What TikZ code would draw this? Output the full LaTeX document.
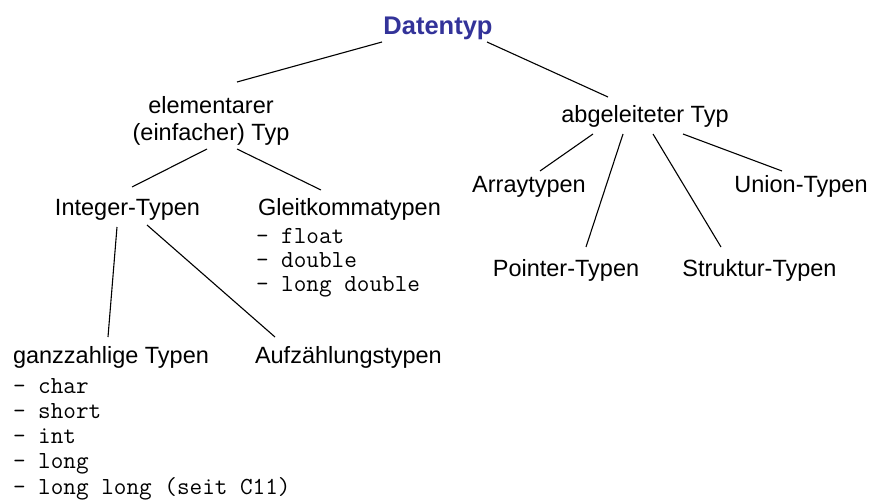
\documentclass[tikz,border=0pt]{standalone}
\usepackage{fontspec}
\setmainfont{Liberation Sans}
\setmonofont{Latin Modern Mono}
\usetikzlibrary{calc}
\definecolor{titleblue}{RGB}{51,51,153}
\tikzset{
  lbl/.style={inner sep=0pt, outer sep=0pt, font=\fontsize{23.5}{27}\selectfont},
  ttl/.style={inner sep=0pt, outer sep=0pt, text=titleblue, font=\bfseries\fontsize{25.5}{30}\selectfont},
  lst/.style={inner sep=0pt, outer sep=0pt, align=left, font=\ttfamily\fontsize{24.5}{24}\selectfont},
  lstb/.style={lst, font=\ttfamily\fontsize{24.5}{25.25}\selectfont},
  con/.style={line width=1.1pt, black}
}
\begin{document}
\begin{tikzpicture}[x=1pt, y=-1pt]
\useasboundingbox (0,0) rectangle (871,503);
% nodes (multi-line nodes: base = baseline of last line)
\node[ttl, anchor=base] (dt) at (438,35) {Datentyp};
\node[lbl, anchor=base, align=center] (el) at (211,140) {elementarer\\(einfacher) Typ};
\node[lbl, anchor=base] (ab) at (645,123) {abgeleiteter Typ};
\node[lbl, anchor=base] (it) at (127.5,215) {Integer-Typen};
\node[lbl, anchor=base west] (gk) at (258,215) {Gleitkommatypen};
\node[lst, anchor=base west] (gkl) at (256,291) {- float\\- double\\- long double};
\node[lbl, anchor=base] (ar) at (529,192) {Arraytypen};
\node[lbl, anchor=base] (un) at (801,192) {Union-Typen};
\node[lbl, anchor=base] (pt) at (566,276) {Pointer-Typen};
\node[lbl, anchor=base] (st) at (759.5,276) {Struktur-Typen};
\node[lbl, anchor=base west] (gz) at (13,363) {ganzzahlige Typen};
\node[lstb, anchor=base west] (gzl) at (13,494) {- char\\- short\\- int\\- long\\- long long (seit C11)};
\node[lbl, anchor=base west] (au) at (255,363) {Aufzählungstypen};
% connectors
\draw[con] ($(dt.base)+(-56,7)$) -- ($(el.base)+(26,-58)$);
\draw[con] ($(dt.base)+(49,7)$) -- ($(ab.base)+(-37,-26)$);
\draw[con] ($(el.base)+(-4,9)$) -- ($(it.base)+(4.5,-28)$);
\draw[con] ($(el.base)+(26,9)$) -- ($(gk.base west)+(63,-25)$);
\draw[con] ($(ab.base)+(-52,11)$) -- ($(ar.base)+(11,-21)$);
\draw[con] ($(ab.base)+(-22,11)$) -- ($(pt.base)+(20,-29)$);
\draw[con] ($(ab.base)+(8,11)$) -- ($(st.base)+(-38.5,-29)$);
\draw[con] ($(ab.base)+(38,11)$) -- ($(un.base)+(-19,-21)$);
\draw[con] ($(it.base)+(-10.5,12)$) -- ($(gz.base west)+(95,-26)$);
\draw[con] ($(it.base)+(19.5,10)$) -- ($(au.base west)+(20,-26)$);
\end{tikzpicture}
\end{document}
